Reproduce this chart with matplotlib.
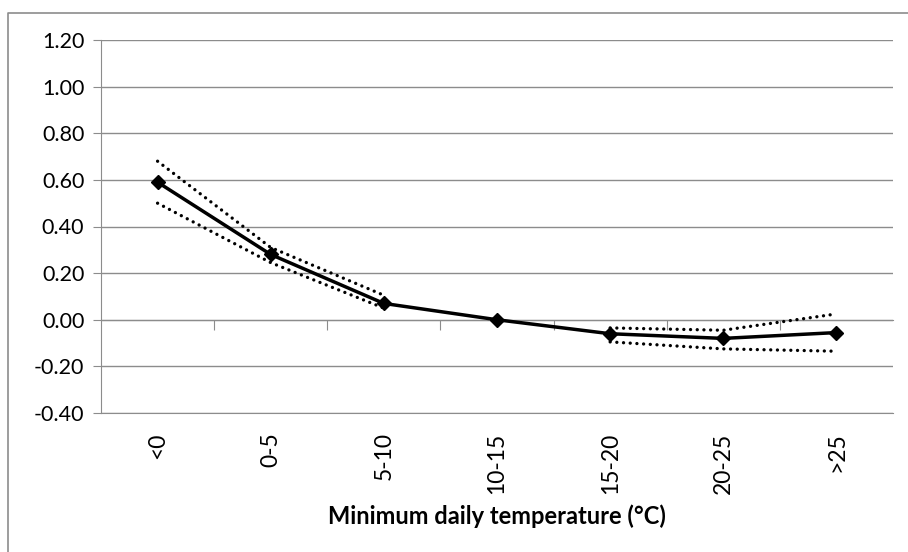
import matplotlib
matplotlib.use("Agg")
import matplotlib.pyplot as plt
from matplotlib.lines import Line2D
import numpy as np

plt.rcParams["font.family"] = ["Lato", "DejaVu Sans"]

categories = ["<0", "0-5", "5-10", "10-15", "15-20", "20-25", ">25"]
estimate = [0.59, 0.28, 0.07, 0.00, -0.06, -0.08, -0.055]
upper = [0.68, 0.31, 0.105, np.nan, -0.035, -0.045, 0.025]
lower = [0.50, 0.245, 0.05, np.nan, -0.095, -0.125, -0.135]

grid_col = "#8c8c8c"

fig = plt.figure(figsize=(9.08, 5.52), dpi=100)
ax = fig.add_axes([101 / 908, 1 - 413 / 552, 792 / 908, 373 / 552])

x = np.arange(len(categories))
ax.plot(x, upper, color="black", lw=2.4, linestyle=(0, (0.01, 2.0)),
        dash_capstyle="round")
ax.plot(x, lower, color="black", lw=2.4, linestyle=(0, (0.01, 2.0)),
        dash_capstyle="round")
ax.plot(x, estimate, color="black", lw=2.5, marker="D", markersize=7)

ax.set_xlim(-0.5, len(categories) - 0.5)
ax.set_ylim(-0.4, 1.2)
ax.set_yticks(np.arange(-0.4, 1.21, 0.2))
ax.yaxis.set_major_formatter(matplotlib.ticker.FormatStrFormatter("%.2f"))
ax.yaxis.grid(True, color=grid_col, lw=1.0)
ax.set_axisbelow(True)
ax.tick_params(axis="y", length=6, color=grid_col, labelsize=15.5, pad=6)

ax.set_xticks(x)
ax.set_xticklabels(categories, rotation=90, fontsize=16.5)
ax.tick_params(axis="x", length=0, pad=14)

for s in ["top", "right"]:
    ax.spines[s].set_visible(False)
ax.spines["left"].set_color(grid_col)
ax.spines["bottom"].set_color(grid_col)

# horizontal axis crosses at zero, ticks at category boundaries
sec = ax.secondary_xaxis(0.25)
sec.set_xticks(np.arange(0.5, len(categories) - 0.5, 1.0))
sec.set_xticklabels([])
sec.tick_params(length=7, color=grid_col, direction="out")
sec.spines["bottom"].set_color(grid_col)

ax.set_xlabel("Minimum daily temperature (°C)", fontsize=17, fontweight="bold",
              labelpad=8)

# chart area border (only top and left edges fall inside the image)
fig.lines.append(Line2D([8 / 908, 8 / 908, 1.0], [0.0, 1 - 13 / 552, 1 - 13 / 552],
                        transform=fig.transFigure, color=grid_col, lw=1.2))

fig.savefig("out.png", dpi=100)
